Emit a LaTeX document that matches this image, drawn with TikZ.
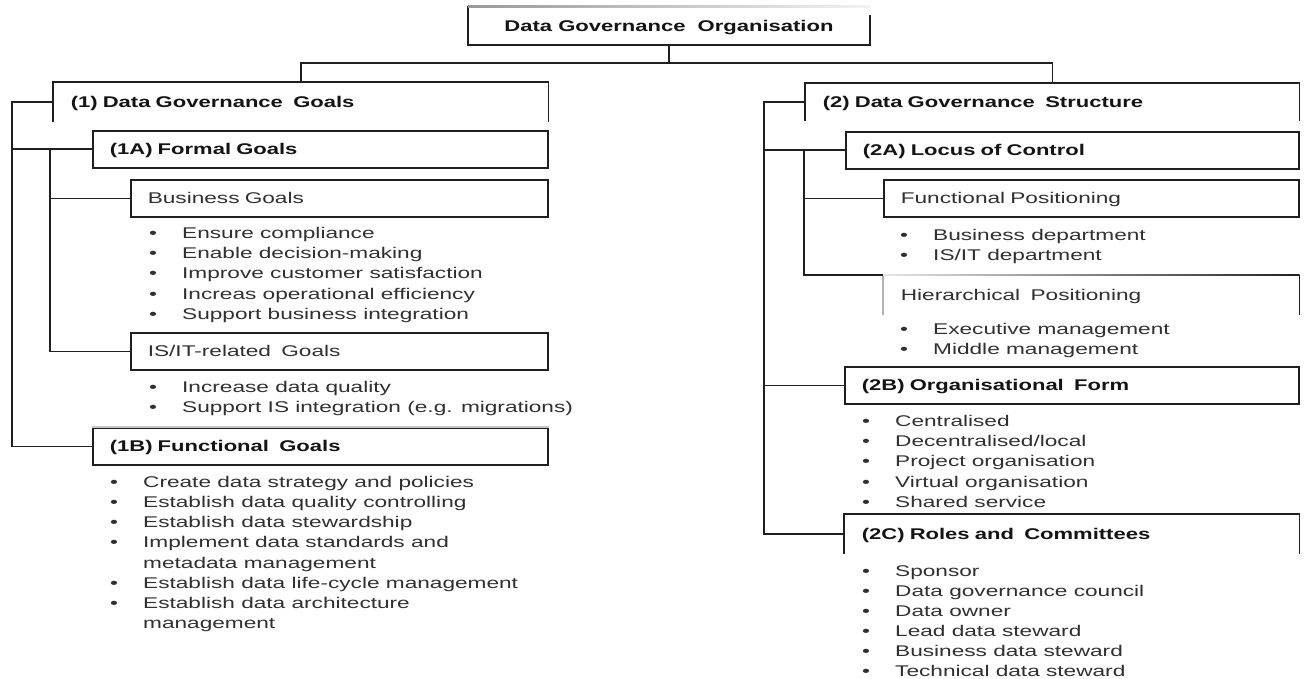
\documentclass[tikz,border=0pt]{standalone}
\usepackage{fontspec}
\setmainfont{Liberation Sans}[FakeStretch=1.46]
\newfontfamily\hdfont{Liberation Sans}[FakeStretch=1.42]
\definecolor{lncol}{HTML}{202020}
\definecolor{txtcol}{HTML}{303030}
\definecolor{hdcol}{HTML}{141414}
\newcommand\bul{\makebox[33pt][l]{\textbullet}}
\newcommand\nobul{\makebox[33pt][l]{}}
\begin{document}
\begin{tikzpicture}[x=1pt,y=-1pt,
  ln/.style={draw=lncol, line width=1.6pt},
  box/.style={ln, anchor=north west, inner xsep=17pt, inner ysep=0pt,
    text height=11.1pt, text depth=0pt, align=left},
  hd/.style={font=\hdfont\bfseries\fontsize{15.5}{20}\selectfont, text=hdcol},
  sub/.style={font=\fontsize{15.5}{20}\selectfont, text=txtcol},
  item/.style={anchor=west, inner sep=0pt, text height=11.1pt, text depth=0pt,
    font=\fontsize{15.5}{20}\selectfont, text=txtcol},
]
\fill[white] (0,0) rectangle (1305,679);
\useasboundingbox (0,0) rectangle (1305,679);

% ---------- root ----------
\node[hd, draw=none, minimum width=402pt, minimum height=38pt, inner sep=0pt,
  text height=11.1pt, text depth=0pt] (org) at (669,26) {Data Governance\ \ Organisation};
\draw[ln] ([yshift=0.8pt]org.north west) -- (org.south west) -- (org.south east) -- ([yshift=-8pt]org.north east);
\shade[left color=gray!80, right color=gray!10] ([yshift=-0.8pt]org.north west) rectangle ([yshift=0.8pt]org.north east);

% ---------- left branch: goals ----------
\node[box, hd, draw=none, minimum width=494pt, text width=460pt, minimum height=38pt] (g1) at (53,82) {(1) Data Governance\ \ Goals};
\draw[ln] (g1.south west) |- (g1.north east) -- (g1.south east);

\node[box, hd, minimum width=455pt, text width=421pt, minimum height=37pt] (f1a) at (92,130) {(1A) Formal Goals};
\node[box, sub, minimum width=417pt, text width=383pt, minimum height=37pt] (bg) at (130,179) {Business Goals};
\node[box, sub, minimum width=417pt, text width=383pt, minimum height=37pt] (isit) at (130,332) {IS/IT-related\ \ Goals};
\node[box, hd, minimum width=455pt, text width=421pt, minimum height=37pt] (f1b) at (92,427) {(1B) Functional\ \ Goals};
\draw[line width=1.6pt, gray!45] (f1b.north west) -- (f1b.north east);

\foreach \t [count=\i] in {Ensure compliance, Enable decision-making,
    Improve customer satisfaction, Increas operational efficiency,
    Support business integration}
  \node[item] (bgi\i) at (149,{233+20.2*(\i-1)}) {\bul\t};
\foreach \t [count=\i] in {Increase data quality, Support IS integration (e.g. migrations)}
  \node[item] (isi\i) at (149,{387+20*(\i-1)}) {\bul\t};

\node[item] (fb1) at (110,482) {\bul Create data strategy and policies};
\node[item] (fb2) at (110,502) {\bul Establish data quality controlling};
\node[item] (fb3) at (110,522) {\bul Establish data stewardship};
\node[item] (fb4) at (110,542) {\bul Implement data standards and};
\node[item] (fb4b) at (110,563) {\nobul metadata management};
\node[item] (fb5) at (110,583) {\bul Establish data life-cycle management};
\node[item] (fb6) at (110,603) {\bul Establish data architecture};
\node[item] (fb6b) at (110,623) {\nobul management};

% ---------- right branch: structure ----------
\node[box, hd, draw=none, minimum width=493pt, text width=459pt, minimum height=36pt] (g2) at (805,83) {(2) Data Governance\ \ Structure};
\draw[ln] (g2.south west) |- (g2.north east) -- (g2.south east);

\node[box, hd, minimum width=453pt, text width=419pt, minimum height=37pt] (r2a) at (845,131) {(2A) Locus of Control};
\node[box, sub, minimum width=415pt, text width=381pt, minimum height=37pt] (fp) at (883,179) {Functional Positioning};
\node[box, sub, draw=none, minimum width=415pt, text width=381pt, minimum height=38pt] (hp) at (883,275) {Hierarchical\ \ Positioning};
\draw[line width=1.6pt, gray!60] (hp.north west) -- (hp.south west);
\draw[ln] (hp.north east) -- (hp.south east);
\shade[left color=gray!20, right color=lncol] ([yshift=-0.8pt]hp.north west) rectangle ([yshift=0.8pt]hp.north east);
\node[box, hd, minimum width=454pt, text width=420pt, minimum height=37pt] (r2b) at (844,366) {(2B) Organisational\ \ Form};
\node[box, hd, draw=none, minimum width=454pt, text width=420pt, minimum height=38pt] (r2c) at (844,514) {(2C) Roles and\ \ Committees};
\draw[ln] (r2c.south west) |- (r2c.north east) -- (r2c.south east);

\foreach \t [count=\i] in {Business department, IS/IT department}
  \node[item] (fpi\i) at (900,{234.5+20*(\i-1)}) {\bul\t};
\foreach \t [count=\i] in {Executive management, Middle management}
  \node[item] (hpi\i) at (900,{329+20*(\i-1)}) {\bul\t};
\foreach \t [count=\i] in {Centralised, Decentralised/local, Project organisation,
    Virtual organisation, Shared service}
  \node[item] (obi\i) at (862,{421+20.2*(\i-1)}) {\bul\t};
\foreach \t [count=\i] in {Sponsor, Data governance council, Data owner,
    Lead data steward, Business data steward, Technical data steward}
  \node[item] (rci\i) at (862,{571+20*(\i-1)}) {\bul\t};

% ---------- connectors ----------
\draw[ln] (org.south) -- ++(0,18) coordinate (bus);
\draw[ln] (g1.north) |- (bus) -| (g2.north);

\coordinate (lsp) at (12,0);
\coordinate (lsp2) at (50,0);
\coordinate (rsp) at (764,0);
\coordinate (rsp2) at (804,0);

\draw[ln] (g1.west) -- (g1.west -| lsp) |- (f1b.west);
\draw[ln] (f1a.west -| lsp) -- (f1a.west);
\draw[ln] (f1a.west -| lsp2) |- (isit.west);
\draw[ln] (bg.west -| lsp2) -- (bg.west);

\draw[ln] (g2.west) -- (g2.west -| rsp) |- (r2c.west);
\draw[ln] (r2a.west -| rsp) -- (r2a.west);
\draw[ln] (r2b.west -| rsp) -- (r2b.west);
\draw[ln] (r2a.west -| rsp2) |- (hp.north west);
\draw[ln] (fp.west -| rsp2) -- (fp.west);
\end{tikzpicture}
\end{document}
